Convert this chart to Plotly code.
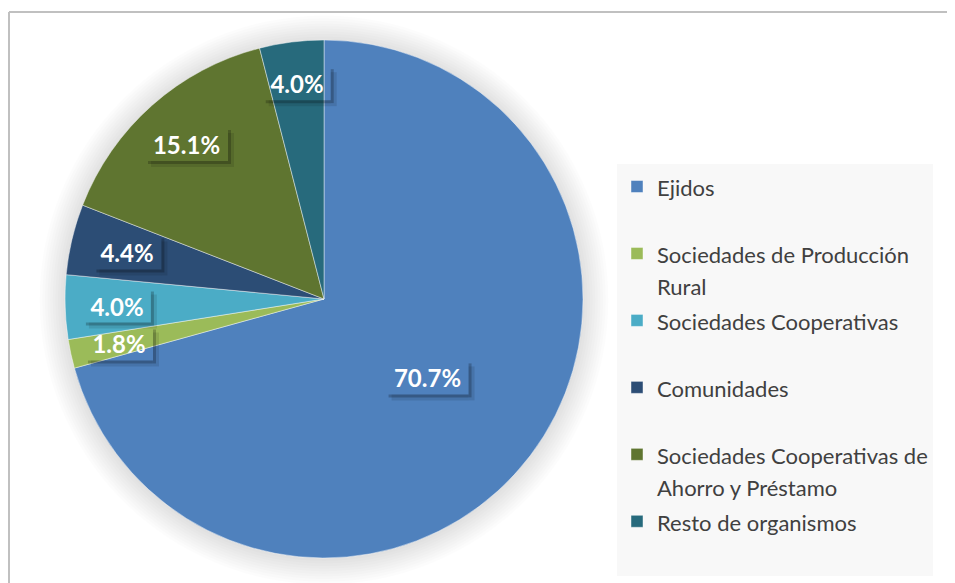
import math
import plotly.graph_objects as go

# data
labels = [
    "Ejidos",
    "Sociedades de Producción<br>Rural",
    "Sociedades Cooperativas",
    "Comunidades",
    "Sociedades Cooperativas de<br>Ahorro y Préstamo",
    "Resto de organismos",
]
values = [70.7, 1.8, 4.0, 4.4, 15.1, 4.0]
colors = ["#4F81BD", "#9BBB59", "#4BACC6", "#2C4D75", "#5F7530", "#276A7C"]
label_radius = [0.50, 0.81, 0.80, 0.78, 0.80, 0.84]  # radial position of the % boxes

# page body has an 8px margin, so the figure is 8px smaller and coords are shifted
OFF = 8
W, H = 955 - OFF, 583 - OFF
CX, CY, R = 324, 299, 259  # pie centre / radius in screen pixels


def px(x):
    return (x - OFF) / W


def py(y):
    return 1 - (y - OFF) / H


# legend entries: every entry has two lines so spacing is even, text drawn a bit smaller
def legend_text(s):
    parts = s.split("<br>")
    if len(parts) == 1:
        parts.append(" ")
    return "<br>".join("<span style='font-size:22px'>%s</span>" % p for p in parts)


fig = go.Figure()
fig.add_trace(go.Pie(
    labels=[legend_text(l) for l in labels],
    values=values,
    sort=False,
    direction="clockwise",
    rotation=0,
    marker=dict(colors=colors, line=dict(color="rgba(255,255,255,0.55)", width=0.8)),
    textinfo="none",
    hoverinfo="label+percent",
    domain=dict(x=[px(CX - R), px(CX + R)], y=[py(CY + R), py(CY - R)]),
))

shapes = []
# soft shadow behind the pie
for k in range(10):
    rr = R + 2 + k * 2.6
    shapes.append(dict(
        type="circle", xref="paper", yref="paper", layer="below",
        x0=px(CX - rr), x1=px(CX + rr), y0=py(CY + 1 + rr), y1=py(CY + 1 - rr),
        fillcolor="rgba(0,0,0,0.012)", line=dict(width=0),
    ))

# chart-area frame (only top and left visible in the crop)
shapes.append(dict(type="line", xref="paper", yref="paper", x0=px(9), x1=px(960),
                   y0=py(12), y1=py(12), line=dict(color="#C0C0C0", width=2)))
shapes.append(dict(type="line", xref="paper", yref="paper", x0=px(9), x1=px(9),
                   y0=py(12), y1=py(590), line=dict(color="#C0C0C0", width=2)))

annotations = []
total = sum(values)
start = 0.0
for v, rr in zip(values, label_radius):
    mid = math.radians((start + v / 2) / total * 360)
    start += v
    x = CX + rr * R * math.sin(mid)
    y = CY - rr * R * math.cos(mid)
    txt = "%.1f%%" % v
    bw = 15 * len(txt) + 8
    bh = 34
    L, Rr, T, B = x - bw / 2, x + bw / 2, y - bh / 2, y + bh / 2
    # drop shadow of the label box (right and bottom edges)
    for off, a in [(3, 0.22), (6, 0.10)]:
        shapes.append(dict(type="rect", xref="paper", yref="paper", layer="above",
                           x0=px(Rr), x1=px(Rr + off), y0=py(T + off), y1=py(B + off),
                           fillcolor="rgba(0,0,0,%s)" % a, line=dict(width=0)))
        shapes.append(dict(type="rect", xref="paper", yref="paper", layer="above",
                           x0=px(L + off), x1=px(Rr), y0=py(B), y1=py(B + off),
                           fillcolor="rgba(0,0,0,%s)" % a, line=dict(width=0)))
    annotations.append(dict(
        x=px(x), y=py(y), xref="paper", yref="paper", text="<b>%s</b>" % txt,
        showarrow=False, xanchor="center", yanchor="middle",
        width=15 * len(txt), height=26, borderpad=4, borderwidth=0,
        font=dict(family="Lato", size=24, color="white"),
    ))

fig.update_layout(
    width=W, height=H,
    margin=dict(l=0, r=0, t=0, b=0),
    paper_bgcolor="white",
    plot_bgcolor="white",
    font=dict(family="Lato", color="#404040"),
    showlegend=True,
    legend=dict(
        x=px(617), y=py(164), xanchor="left", yanchor="top",
        bgcolor="#F8F8F8", borderwidth=0,
        font=dict(family="Lato", size=24.6, color="#404040"),
        valign="top", traceorder="normal",
    ),
    shapes=shapes,
    annotations=annotations,
)

fig.write_html("out.html")
